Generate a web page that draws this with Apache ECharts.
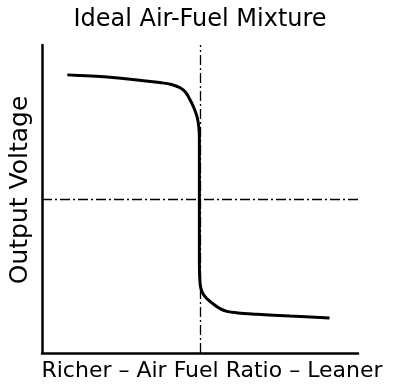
<!DOCTYPE html>
<html><head><meta charset="utf-8">
<script src="https://cdn.jsdelivr.net/npm/echarts@6/dist/echarts.min.js"></script>
<style>html,body{margin:0;padding:0;background:#fff}#c{width:400px;height:390px}</style>
</head><body><div id="c"></div>
<script>
// Air-fuel ratio position (0 = richest, 100 = leanest) and relative output voltage (0-100)
const ratioX = [8, 14, 20.6, 28, 37.3, 41, 43.7, 45.5, 46.8, 48, 49.1, 49.6, 49.8, 49.8, 49.8, 49.9, 50.2, 50.9, 52.2, 54.1, 56.2, 58.5, 62, 68, 78.5, 91];
const voltage = [90.3, 90, 89.6, 88.9, 87.8, 87.2, 86.1, 84.6, 82.3, 79.8, 76.6, 73.5, 70, 50, 30, 24.5, 21.3, 19.3, 17.6, 16.0, 14.5, 13.5, 13, 12.6, 12.0, 11.4];
const stoichX = 50;
const midVoltage = 50;
const titleText = 'Ideal Air-Fuel Mixture';
const xName = 'Richer – Air Fuel Ratio – Leaner';
const yName = 'Output Voltage';

const data = ratioX.map((x, i) => [x, voltage[i]]);
const chart = echarts.init(document.getElementById('c'), null, {renderer: 'canvas'});
const font = 'DejaVu Sans, sans-serif';
chart.setOption({
  animation: false,
  backgroundColor: '#fff',
  title: {text: titleText, left: 'center', top: 3,
    textStyle: {fontFamily: font, fontSize: 24, fontWeight: 'normal', color: '#000'}},
  grid: {left: 42, right: 42, top: 45, bottom: 37},
  graphic: [
    {type: 'text', x: 212, y: 371, style: {text: xName, font: '22px DejaVu Sans', fill: '#000', align: 'center', verticalAlign: 'middle'}},
    {type: 'text', x: 20, y: 190, rotation: Math.PI / 2, style: {text: yName, font: '25px DejaVu Sans', fill: '#000', align: 'center', verticalAlign: 'middle'}}
  ],
  xAxis: {type: 'value', min: 0, max: 100,
    axisLine: {show: true, onZero: false, lineStyle: {color: '#000', width: 2.5}},
    axisTick: {show: false}, axisLabel: {show: false}, splitLine: {show: false}},
  yAxis: {type: 'value', min: 0, max: 100,
    axisLine: {show: true, lineStyle: {color: '#000', width: 2.5}},
    axisTick: {show: false}, axisLabel: {show: false}, splitLine: {show: false}},
  series: [{
    type: 'line', data: data, smooth: 0.35, symbol: 'none',
    lineStyle: {color: '#000', width: 3},
    markLine: {silent: true, symbol: 'none', label: {show: false},
      lineStyle: {color: '#000', width: 1.3, type: [10, 3, 2, 3]},
      data: [{xAxis: stoichX}, {yAxis: midVoltage}]}
  }]
});
</script></body></html>
